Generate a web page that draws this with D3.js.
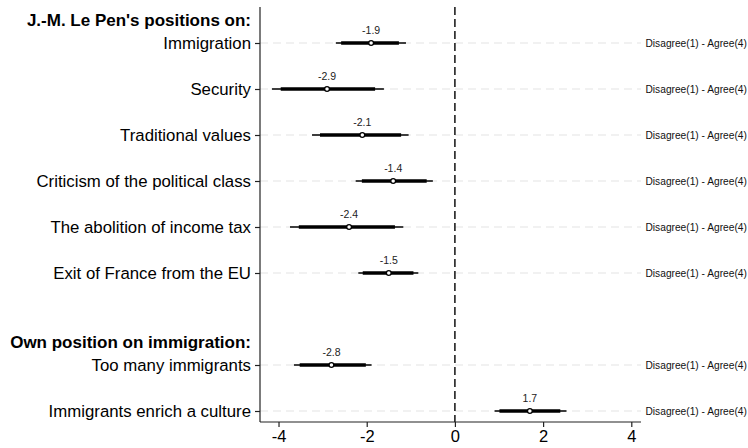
<!DOCTYPE html>
<html>
<head>
<meta charset="utf-8">
<script src="https://cdn.jsdelivr.net/npm/d3@7"></script>
<style>
  html, body { margin: 0; padding: 0; background: #fff; }
  svg { display: block; font-family: "Liberation Sans", Arial, sans-serif; }
</style>
</head>
<body>
<svg id="chart" width="748" height="448"></svg>
<script>
// Item labels, in plotting order (row index below)
const items = [
  "Immigration",
  "Security",
  "Traditional values",
  "Criticism of the political class",
  "The abolition of income tax",
  "Exit of France from the EU",
  "Too many immigrants",
  "Immigrants enrich a culture"
];
const rows = [0, 1, 2, 3, 4, 5, 7, 8];
const groupHeaders = ["J.-M. Le Pen's positions on:", "Own position on immigration:"];
const headerRows = [-0.5, 6.5];

// Point estimates and intervals (outer = 95%, inner = 90%)
const estimates = [-1.9, -2.9, -2.1, -1.4, -2.4, -1.5, -2.8, 1.7];
const outerLow  = [-2.70, -4.15, -3.24, -2.25, -3.74, -2.19, -3.65, 0.90];
const outerHigh = [-1.11, -1.61, -1.05, -0.50, -1.17, -0.83, -1.89, 2.53];
const innerLow  = [-2.58, -3.95, -3.06, -2.11, -3.54, -2.09, -3.52, 1.01];
const innerHigh = [-1.27, -1.81, -1.22, -0.64, -1.36, -0.94, -2.02, 2.39];

const scaleNote = "Disagree(1) - Agree(4)";
const xTicks = [-4, -2, 0, 2, 4];

const svg = d3.select("#chart");
const plot = { left: 260, right: 641, top: 7, bottom: 422 };

const x = d3.scaleLinear().domain([-4.42, 4.22]).range([plot.left, plot.right]);
const y = d3.scaleLinear().domain([0, 8]).range([43, 411]);

const data = items.map((name, i) => ({
  name, row: rows[i], est: estimates[i],
  lo95: outerLow[i], hi95: outerHigh[i], lo90: innerLow[i], hi90: innerHigh[i]
}));

// light dashed gridlines at each item
svg.append("g").selectAll("line").data(data).join("line")
  .attr("x1", plot.left).attr("x2", plot.right)
  .attr("y1", d => y(d.row)).attr("y2", d => y(d.row))
  .attr("stroke", "#e4e4e4").attr("stroke-width", 1.2)
  .attr("stroke-dasharray", "8,5");

// reference line at zero
svg.append("line")
  .attr("x1", x(0)).attr("x2", x(0))
  .attr("y1", plot.top).attr("y2", plot.bottom)
  .attr("stroke", "#000").attr("stroke-width", 1.4)
  .attr("stroke-dasharray", "8,4");

// x axis
const xAxis = svg.append("g")
  .attr("transform", `translate(0,${plot.bottom})`)
  .call(d3.axisBottom(x).tickValues(xTicks).tickSize(5).tickPadding(3).tickFormat(d3.format("d")));
xAxis.select(".domain").attr("stroke", "#222").attr("stroke-width", 1.2)
  .attr("d", `M${plot.left},0H${plot.right}`);
xAxis.selectAll(".tick line").attr("stroke", "#222").attr("stroke-width", 1.2);
xAxis.selectAll(".tick text").attr("font-size", "16.5px").attr("fill", "#000")
  .attr("font-family", "Liberation Sans, Arial, sans-serif")
  .text(d => d < 0 ? "-" + Math.abs(d) : d);

// y axis with item labels
const yAxis = svg.append("g")
  .attr("transform", `translate(${plot.left},0)`)
  .call(d3.axisLeft(y).tickValues(rows).tickSize(5).tickPadding(4)
    .tickFormat((d) => items[rows.indexOf(d)]));
yAxis.select(".domain").attr("stroke", "#222").attr("stroke-width", 1.2)
  .attr("d", `M0,${plot.top}V${plot.bottom}`);
yAxis.selectAll(".tick line").attr("stroke", "#222").attr("stroke-width", 1.2);
yAxis.selectAll(".tick text").attr("font-size", "16.8px").attr("fill", "#000")
  .attr("font-family", "Liberation Sans, Arial, sans-serif");

// group headers
svg.append("g").selectAll("text").data(groupHeaders).join("text")
  .attr("x", plot.left - 9)
  .attr("y", (d, i) => y(headerRows[i]))
  .attr("dy", "0.35em")
  .attr("text-anchor", "end")
  .attr("font-size", "17px").attr("font-weight", "bold").attr("fill", "#000")
  .text(d => d);

// interval bars and points
const marks = svg.append("g").selectAll("g").data(data).join("g");
marks.append("line")
  .attr("x1", d => x(d.lo95)).attr("x2", d => x(d.hi95))
  .attr("y1", d => y(d.row)).attr("y2", d => y(d.row))
  .attr("stroke", "#000").attr("stroke-width", 1.5);
marks.append("line")
  .attr("x1", d => x(d.lo90)).attr("x2", d => x(d.hi90))
  .attr("y1", d => y(d.row)).attr("y2", d => y(d.row))
  .attr("stroke", "#000").attr("stroke-width", 3.6);
marks.append("circle")
  .attr("cx", d => x(d.est)).attr("cy", d => y(d.row)).attr("r", 2.4)
  .attr("fill", "#fff").attr("stroke", "#000").attr("stroke-width", 1.3);
marks.append("text")
  .attr("x", d => x(d.est)).attr("y", d => y(d.row) - 9)
  .attr("text-anchor", "middle")
  .attr("font-size", "10.5px").attr("fill", "#222")
  .text(d => d3.format(".1f")(d.est).replace("−", "-"));

// response scale note on the right
svg.append("g").selectAll("text").data(data).join("text")
  .attr("x", 645.5).attr("y", d => y(d.row))
  .attr("dy", "0.35em")
  .attr("font-size", "10.2px").attr("fill", "#111")
  .text(scaleNote);
</script>
</body>
</html>
